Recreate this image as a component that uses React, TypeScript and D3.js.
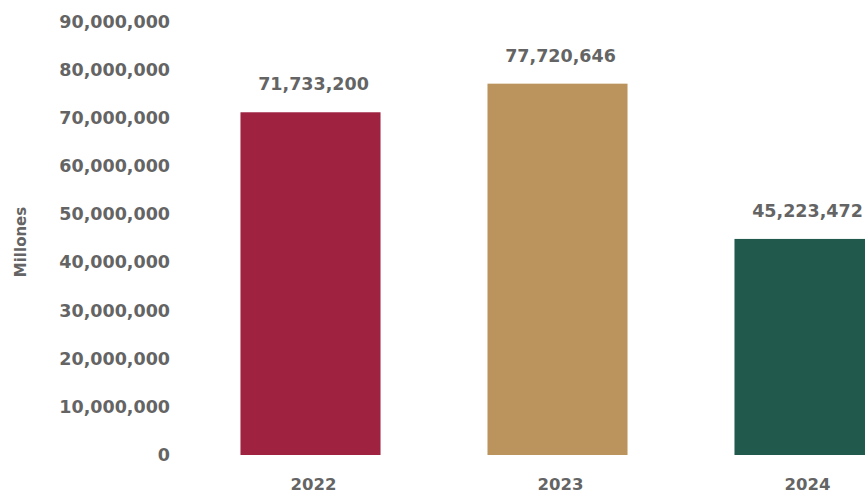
import React from "react";
import * as d3 from "d3";

const categories = ["2022", "2023", "2024"];
const values = [71733200, 77720646, 45223472];
const colors = ["#A02241", "#BA945C", "#215A4D"];
const yTicks = [0, 10000000, 20000000, 30000000, 40000000, 50000000, 60000000, 70000000, 80000000, 90000000];
const yTitle = "Millones";

const W = 865;
const H = 494;

export default function App() {
  const y = d3.scaleLinear().domain([0, 90000000]).range([455, 25]);
  const x = d3
    .scaleBand<string>()
    .domain(categories)
    .range([187, 928])
    .paddingInner(0.433)
    .paddingOuter(0.2165);
  const fmt = d3.format(",");
  const font = "'DejaVu Sans', Verdana, sans-serif";
  const textColor = "#646464";
  return (
    <svg
      width={W}
      height={H}
      style={{ position: "absolute", left: 0, top: 0 }}
      fontFamily={font}
      fontWeight="bold"
    >
      <rect width={W} height={H} fill="#fff" />
      {yTicks.map((t) => (
        <text
          key={t}
          x={170}
          y={y(t) - (t / 90000000) * 3.5}
          textAnchor="end"
          dominantBaseline="central"
          fontSize={17.5}
          fill={textColor}
        >
          {fmt(t)}
        </text>
      ))}
      <text
        transform={`translate(21,242) rotate(-90)`}
        textAnchor="middle"
        dominantBaseline="central"
        fontSize={15}
        fill={textColor}
      >
        {yTitle}
      </text>
      {categories.map((c, i) => (
        <g key={c}>
          <rect
            x={x(c)}
            y={y(values[i])}
            width={x.bandwidth()}
            height={y(0) - y(values[i])}
            fill={colors[i]}
          />
          <text
            x={(x(c) as number) + x.bandwidth() / 2 + 3}
            y={y(values[i]) - 28}
            textAnchor="middle"
            dominantBaseline="central"
            fontSize={17.5}
            fill={textColor}
          >
            {fmt(values[i])}
          </text>
          <text
            x={(x(c) as number) + x.bandwidth() / 2 + 3}
            y={484}
            textAnchor="middle"
            dominantBaseline="central"
            fontSize={16.5}
            fill={textColor}
          >
            {c}
          </text>
        </g>
      ))}
    </svg>
  );
}
